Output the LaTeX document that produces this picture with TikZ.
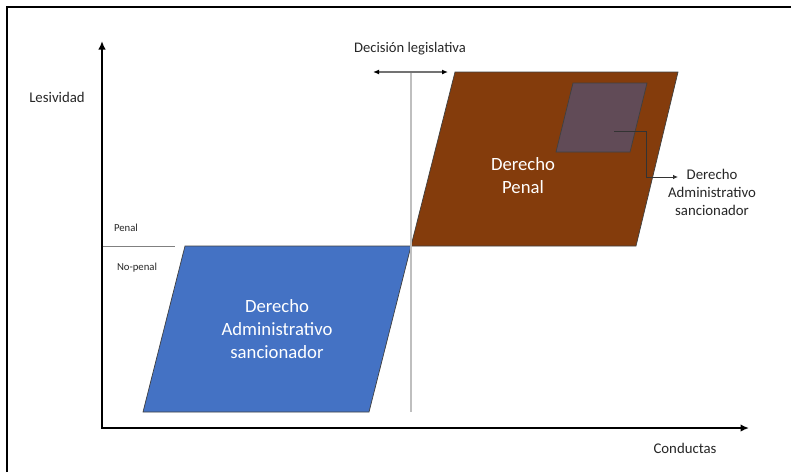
\documentclass[tikz,border=0pt]{standalone}
\usepackage{fontspec}
\setmainfont{Carlito}
\usetikzlibrary{arrows.meta}
\definecolor{adminblue}{HTML}{4472C4}
\definecolor{penalbrown}{HTML}{843C0C}
\definecolor{overlap}{HTML}{614B57}
\definecolor{textgray}{HTML}{262626}
\tikzset{
  axis/.style={line width=2pt, -{Latex[length=8.5pt,width=7.5pt]}},
  area/.style={draw=black!75, line width=0.7pt},
  lbl/.style={text=textgray, inner sep=0pt, align=center},
  fs/.style 2 args={font=\fontsize{#1}{#2}\selectfont},
}
\begin{document}
\begin{tikzpicture}[x=1pt, y=-1pt]
\useasboundingbox (0,0) rectangle (791,472);
% outer frame
\draw[line width=2.4pt] (7,472) -- (7,7) -- (791,7);

% corner points of the regions
\coordinate (o) at (102,428);
\coordinate (c) at (411,246);
\coordinate (b1) at (143,412); \coordinate (b2) at (369,412);
\coordinate (b4) at (185,246);
\coordinate (p2) at (636,246); \coordinate (p3) at (678,72); \coordinate (p4) at (455,72);
\coordinate (s1) at (556,152); \coordinate (s2) at (630,152);
\coordinate (s3) at (647,83);  \coordinate (s4) at (573,83);

% regions
\filldraw[area, fill=adminblue] (b1) -- (b2) -- (c) -- (b4) -- cycle;
\filldraw[area, fill=penalbrown] (c) -- (p2) -- (p3) -- (p4) -- cycle;
\filldraw[area, fill=overlap] (s1) -- (s2) -- (s3) -- (s4) -- cycle;

% legislative threshold
\coordinate (vtop) at (411,72);
\coordinate (vbot) at (411,412);
\draw[color=black!25, line width=1.4pt] (vtop) -- (vbot);
\coordinate (dl) at (373,72);
\coordinate (dr) at (448,72);
\draw[color=black!55, line width=1.2pt, {Latex[length=6pt,width=5pt,color=black]}-{Latex[length=6pt,width=5pt,color=black]}] (dl) -- (dr);

% penal / no-penal divider
\coordinate (d1) at (102,246);
\coordinate (d2) at (175,246);
\draw[color=black!50, line width=1pt] (d1) -- (d2);

% axes
\coordinate (ytip) at (102,41);
\coordinate (xtip) at (749,428);
\draw[axis] (o) -- (ytip);
\draw[axis] ([xshift=-1pt]o) -- (xtip);

% labels
\node[lbl, fs={14.6}{18}] (dec) at (410,49) {Decisión legislativa};
\node[lbl, fs={14.8}{18}] (les) at (57,97) {Lesividad};
\node[lbl, fs={10.7}{13}] (pen) at (126,228) {Penal};
\node[lbl, fs={10.7}{13}] (nop) at (137,268) {No-penal};
\node[lbl, fs={14.8}{18}] (con) at (685,448) {Conductas};

\node[lbl, fs={18.7}{23}, text=white] (adm) at (277,329)
  {Derecho\\Administrativo\\sancionador};
\node[lbl, fs={18.7}{23}, text=white] (dp) at (523,176)
  {Derecho\\Penal};

% pointer from the overlap to its label
\coordinate (sp) at (614,131);
\coordinate (bend) at (646,131);
\coordinate (tip) at (678,177);
\node[lbl, fs={14.8}{18}, anchor=north] (adm2) at (712,169)
  {Derecho\\Administrativo\\sancionador};
\draw[line width=0.8pt, black!80, -{Latex[length=5pt,width=4.5pt]}] (sp) -- (bend) |- (tip);
\end{tikzpicture}
\end{document}
